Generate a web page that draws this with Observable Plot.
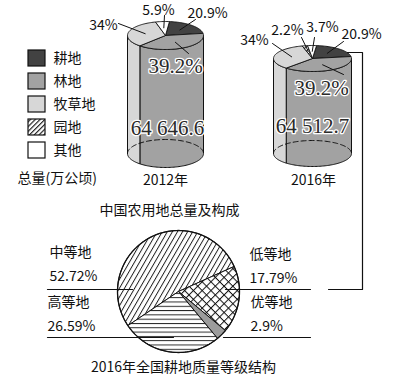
<!DOCTYPE html>
<html><head><meta charset="utf-8">
<script src="https://cdn.jsdelivr.net/npm/d3@7"></script>
<script src="https://cdn.jsdelivr.net/npm/@observablehq/plot@0.6"></script>
<style>
html,body{margin:0;padding:0;background:#fff;}
#chart svg{display:block;}
</style>
</head><body><div id="chart"></div>
<script>
// ---------- data ----------
const landTypes = ["耕地", "林地", "牧草地", "园地", "其他"];
const years = ["2012年", "2016年"];
const totals = [64646.6, 64512.7];
const shares2012 = [20.9, 39.2, 34, 0, 5.9];
const shares2016 = [20.9, 39.2, 34, 2.2, 3.7];
const unitLabel = "总量(万公顷)";
const chartTitle = "中国农用地总量及构成";
const gradeNames = ["中等地", "低等地", "优等地", "高等地"];
const gradeShares = [52.72, 17.79, 2.9, 26.59];
const pieTitle = "2016年全国耕地质量等级结构";

// ---------- styles ----------
const landFill = {"耕地": "#424242", "林地": "#a2a2a2", "牧草地": "#d7d7d7", "园地": "url(#hatchGarden)", "其他": "#ffffff"};
const gradeFill = {"中等地": "url(#hatchDiag)", "低等地": "url(#hatchGrid)", "优等地": "#9c9c9c", "高等地": "url(#hatchHoriz)"};
const SANS = "'Noto Sans CJK SC','Noto Sans',sans-serif";
const SERIF = "'Liberation Serif','DejaVu Serif',serif";

// ---------- layout ----------
const W = 393, H = 391;
const cylLayout = [
  {cx: 165, rx: 38, top: 35, bottom: 153, ry: 14, totalPos: [167, 128], bigPos: [175, 66], bigLead: [188, 53], yearPos: [165, 180],
   labels: {"耕地": {pos: [207, 13], lead: [195, 19]}, "牧草地": {pos: [103, 25], lead: [118, 23]}, "其他": {pos: [158, 10], lead: [164, 15]}}},
  {cx: 312, rx: 39, top: 58, bottom: 153, ry: 13, totalPos: [312, 126], bigPos: [321, 88], bigLead: [343, 74], yearPos: [313, 180],
   labels: {"耕地": {pos: [361, 34], lead: [343, 41]}, "牧草地": {pos: [254, 40], lead: [272, 43]}, "园地": {pos: [287, 30], lead: [301, 37]}, "其他": {pos: [322, 27], lead: [314, 37]}}}
];
const startDeg = 6;
const legendLayout = {x1: 28, x2: 45, y0: 50, step: 23, h: 16, textX: 53};
const unitPos = [17, 178];
const titlePos = [169, 210];
const pie = {cx: 178, cy: 291, r: 61, startDeg: 236};
const pieTitlePos = [183, 367];
const gradeLayout = {
  "中等地": {x: 49, nameY: 252, valueY: 276, lineY: 289, lx1: 47, lx2: 132},
  "低等地": {x: 249, nameY: 254, valueY: 278, lineY: 289, lx1: 225, lx2: 310},
  "优等地": {x: 250, nameY: 302, valueY: 326, lineY: 337, lx1: 223, lx2: 310},
  "高等地": {x: 47, nameY: 302, valueY: 326, lineY: 337, lx1: 47, lx2: 173}
};
const connector = [[347, 52], [362, 52], [362, 289], [328, 289]];

// ---------- helpers ----------
const rad = d => d * Math.PI / 180;
const fmtTotal = d3.formatLocale({decimal: ".", thousands: " ", grouping: [3], currency: ["", ""]}).format(",.1f");
const fmtPct = v => `${v}%`;
function ell(c, y, ry, deg) { const t = rad(deg); return [c.cx + c.rx * Math.sin(t), y - ry * Math.cos(t)]; }
function arc(c, y, ry, a0, a1) {
  const n = Math.max(2, Math.ceil(Math.abs(a1 - a0) / 2));
  return d3.range(n + 1).map(i => ell(c, y, ry, a0 + (a1 - a0) * i / n));
}
function poly(points, fill, extra = {}) {
  const pts = [...points, points[0]];
  return Plot.line(pts, {x: d => d[0], y: d => d[1], fill, stroke: "#111", strokeWidth: 1, curve: "linear", ...extra});
}
const seg = (a, b, extra = {}) => Plot.line([a, b], {x: d => d[0], y: d => d[1], stroke: "#111", strokeWidth: 1, ...extra});

const marks = [];

// ---------- cylinders ----------
[shares2012, shares2016].forEach((shares, k) => {
  const c = cylLayout[k];
  const arcs = d3.pie().sort(null).startAngle(rad(startDeg)).endAngle(rad(startDeg + 360))(shares);
  const slices = arcs.map((a, i) => ({type: landTypes[i], value: shares[i], a0: a.startAngle * 180 / Math.PI, a1: a.endAngle * 180 / Math.PI}))
    .filter(s => s.value > 0);
  slices.forEach(s => {
    const s0 = Math.max(s.a0, 90), s1 = Math.min(s.a1, 270);
    if (s1 <= s0) return;
    const pts = [...arc(c, c.top, c.ry, s0, s1), ...arc(c, c.bottom, c.ry, s1, s0)];
    marks.push(poly(pts, landFill[s.type]));
  });
  marks.push(Plot.line(arc(c, c.bottom, c.ry, 270, 450), {x: d => d[0], y: d => d[1], stroke: "#111", strokeWidth: 1, strokeDasharray: "5,3"}));
  slices.forEach(s => {
    const pts = [[c.cx, c.top], ...arc(c, c.top, c.ry, s.a0, s.a1)];
    marks.push(poly(pts, landFill[s.type], {strokeWidth: 0.9}));
  });
  slices.forEach(s => {
    const mid = (s.a0 + s.a1) / 2;
    const L = c.labels[s.type];
    const inner = [c.cx + 0.55 * c.rx * Math.sin(rad(mid)), c.top - 0.55 * c.ry * Math.cos(rad(mid))];
    if (L) {
      marks.push(seg(L.lead, inner));
      marks.push(Plot.text([s], {x: () => L.pos[0], y: () => L.pos[1], text: d => fmtPct(d.value), fontSize: 14, fontFamily: SANS, fill: "#111"}));
    }
    if (s.type === "林地") {
      marks.push(seg(inner, c.bigLead));
      marks.push(Plot.text([s], {x: () => c.bigPos[0], y: () => c.bigPos[1], text: d => fmtPct(d.value), fontSize: 21, fontFamily: SERIF,
        fill: "#2a2a2a", stroke: "white", strokeWidth: 2.6, paintOrder: "stroke"}));
    }
  });
  marks.push(Plot.text([totals[k]], {x: () => c.totalPos[0], y: () => c.totalPos[1], text: d => fmtTotal(d), fontSize: 21, fontFamily: SERIF,
    fill: "#2a2a2a", stroke: "white", strokeWidth: 2.6, paintOrder: "stroke"}));
  marks.push(Plot.text([years[k]], {x: () => c.yearPos[0], y: () => c.yearPos[1], text: d => d, fontSize: 14, fontFamily: SANS, fill: "#111"}));
});

// ---------- legend ----------
const legendData = landTypes.map((t, i) => ({t, i}));
marks.push(Plot.rect(legendData, {
  x1: () => legendLayout.x1, x2: () => legendLayout.x2,
  y1: d => legendLayout.y0 + d.i * legendLayout.step, y2: d => legendLayout.y0 + d.i * legendLayout.step + legendLayout.h,
  fill: d => landFill[d.t], stroke: "#111", strokeWidth: 1.2
}));
marks.push(Plot.text(legendData, {x: () => legendLayout.textX, y: d => legendLayout.y0 + d.i * legendLayout.step + legendLayout.h / 2,
  text: d => d.t, textAnchor: "start", fontSize: 14, fontFamily: SANS, fill: "#111"}));
marks.push(Plot.text([unitLabel], {x: () => unitPos[0], y: () => unitPos[1], text: d => d, textAnchor: "start", fontSize: 14, fontFamily: SANS, fill: "#111"}));
marks.push(Plot.text([chartTitle], {x: () => titlePos[0], y: () => titlePos[1], text: d => d, fontSize: 14, fontFamily: SANS, fill: "#111"}));

// ---------- connector ----------
marks.push(Plot.line(connector, {x: d => d[0], y: d => d[1], stroke: "#111", strokeWidth: 1.2}));

// ---------- pie ----------
const pc = {cx: pie.cx, rx: pie.r};
const pieArcs = d3.pie().sort(null).startAngle(rad(pie.startDeg)).endAngle(rad(pie.startDeg + 360))(gradeShares);
pieArcs.forEach((a, i) => {
  const a0 = a.startAngle * 180 / Math.PI, a1 = a.endAngle * 180 / Math.PI;
  const pts = [[pie.cx, pie.cy], ...arc(pc, pie.cy, pie.r, a0, a1)];
  marks.push(poly(pts, gradeFill[gradeNames[i]], {strokeWidth: 1}));
});
marks.push(Plot.line(arc(pc, pie.cy, pie.r, 0, 360), {x: d => d[0], y: d => d[1], stroke: "#111", strokeWidth: 1.3}));
gradeNames.forEach((g, i) => {
  const L = gradeLayout[g];
  marks.push(seg([L.lx1, L.lineY], [L.lx2, L.lineY], {strokeWidth: 1.2}));
  marks.push(Plot.text([g], {x: () => L.x, y: () => L.nameY, text: d => d, textAnchor: "start", fontSize: 14, fontFamily: SANS, fill: "#111"}));
  marks.push(Plot.text([gradeShares[i]], {x: () => L.x, y: () => L.valueY, text: d => fmtPct(d), textAnchor: "start", fontSize: 14, fontFamily: SANS, fill: "#111"}));
});
marks.push(Plot.text([pieTitle], {x: () => pieTitlePos[0], y: () => pieTitlePos[1], text: d => d, fontSize: 14, fontFamily: SANS, fill: "#111"}));

const chart = Plot.plot({
  width: W, height: H, margin: 0,
  x: {domain: [0, W], range: [0, W], axis: null},
  y: {domain: [0, H], range: [0, H], axis: null},
  style: {background: "white", fontFamily: SANS, overflow: "visible"},
  marks
});

// ---------- patterns ----------
const defs = d3.select(chart).insert("defs", ":first-child");
function pattern(id, w, h, transform, draw) {
  const p = defs.append("pattern").attr("id", id).attr("patternUnits", "userSpaceOnUse").attr("width", w).attr("height", h);
  if (transform) p.attr("patternTransform", transform);
  p.append("rect").attr("width", w).attr("height", h).attr("fill", "white");
  draw(p);
}
pattern("hatchDiag", 4.4, 10, "rotate(30)", p => p.append("line").attr("x1", 0.5).attr("y1", 0).attr("x2", 0.5).attr("y2", 10).attr("stroke", "#111").attr("stroke-width", 0.9));
pattern("hatchHoriz", 10, 4.3, null, p => p.append("line").attr("x1", 0).attr("y1", 0.5).attr("x2", 10).attr("y2", 0.5).attr("stroke", "#111").attr("stroke-width", 0.9));
pattern("hatchGrid", 6.2, 6.2, "rotate(45)", p => {
  p.append("line").attr("x1", 0).attr("y1", 0.5).attr("x2", 6.2).attr("y2", 0.5).attr("stroke", "#111").attr("stroke-width", 1);
  p.append("line").attr("x1", 0.5).attr("y1", 0).attr("x2", 0.5).attr("y2", 6.2).attr("stroke", "#111").attr("stroke-width", 1);
});
pattern("hatchGarden", 3.4, 10, "rotate(45)", p => p.append("line").attr("x1", 0.6).attr("y1", 0).attr("x2", 0.6).attr("y2", 10).attr("stroke", "#111").attr("stroke-width", 1.1));

document.getElementById("chart").append(chart);
</script>
</body></html>
